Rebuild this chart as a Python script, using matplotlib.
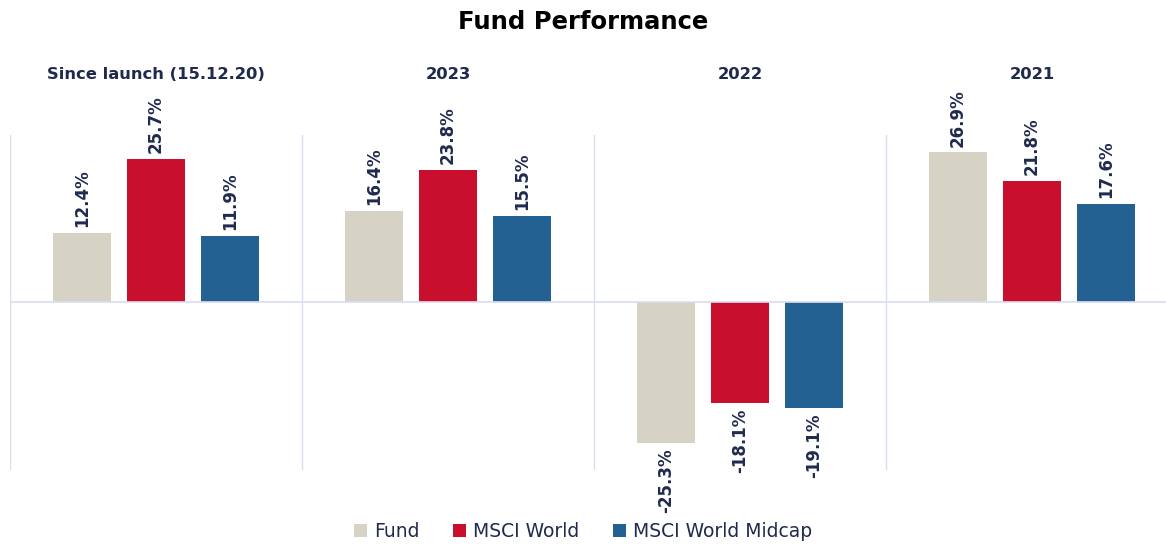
"""Fund performance chart: fund vs MSCI World vs MSCI World Midcap."""

import matplotlib
matplotlib.use("Agg")
import matplotlib.pyplot as plt
import numpy as np

# chart data
groups = ["Since launch (15.12.20)", "2023", "2022", "2021"]
series_names = ["Fund", "MSCI World", "MSCI World Midcap"]
fund = [12.4, 16.4, -25.3, 26.9]
msci_world = [25.7, 23.8, -18.1, 21.8]
msci_midcap = [11.9, 15.5, -19.1, 17.6]

colors = ["#D6D3C4", "#C8102E", "#236192"]
text_color = "#1F2A4D"
grid_color = "#D9DDF0"

plt.rcParams['font.family'] = ['DejaVu Sans']

fig = plt.figure(figsize=(11.66, 5.44), dpi=100)
ax = fig.add_axes([10 / 1166, 1 - 470 / 544, 1 - 10 / 1166, 335 / 544])

x = np.arange(len(groups))
step = 0.2534
width = 0.1986

all_series = [fund, msci_world, msci_midcap]
for i, vals in enumerate(all_series):
    pos = x + (i - 1) * step
    ax.bar(pos, vals, width=width, color=colors[i], label=series_names[i],
           zorder=3)
    # value labels, rotated
    for px, v in zip(pos, vals):
        if v >= 0:
            ax.text(px, v + 1.0, f"{v:.1f}%", rotation=90, ha="center",
                    va="bottom", fontsize=12, fontweight="bold",
                    color=text_color, clip_on=False)
        else:
            ax.text(px, v - 1.0, f"{v:.1f}%", rotation=90, ha="center",
                    va="top", fontsize=12, fontweight="bold",
                    color=text_color, clip_on=False)

# group titles
for xi, g in zip(x, groups):
    ax.text(xi, 40.8, g, ha="center", va="center", fontsize=11.8,
            fontweight="bold", color=text_color, clip_on=False)

# separators and zero line
for b in [-0.5, 0.5, 1.5, 2.5]:
    ax.axvline(b, color=grid_color, linewidth=1, zorder=1)
ax.axhline(0, color=grid_color, linewidth=1.2, zorder=4)

ax.set_xlim(-0.5, -0.5 + (1166 - 10) / 292)
ax.set_ylim(-30.2, 30)
ax.axis("off")

fig.text(0.5, 1 - 22 / 544, "Fund Performance", ha="center", va="center",
         fontsize=17.5, fontweight="bold", color="black")

leg = fig.legend(loc="lower center", bbox_to_anchor=(0.5, -0.025), ncol=3,
                 frameon=False, fontsize=13.5, handlelength=0.7,
                 handleheight=0.7, handletextpad=0.35, columnspacing=1.8)
for t in leg.get_texts():
    t.set_color(text_color)

fig.savefig("out.png", dpi=100)
